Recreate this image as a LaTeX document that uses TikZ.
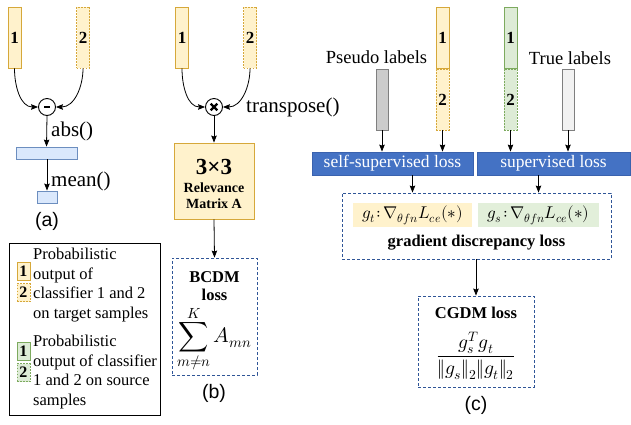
\documentclass[tikz,border=0pt]{standalone}
\usepackage{fontspec}
\usepackage{unicode-math}
\setmainfont{Liberation Serif}
\setmathfont{Latin Modern Math}
\newfontfamily\arialfont{Liberation Sans}
\usetikzlibrary{arrows.meta}
\definecolor{ylfill}{HTML}{FFF2CC}
\definecolor{yldraw}{HTML}{D6A83A}
\definecolor{grfill}{HTML}{DDEBD6}
\definecolor{grdraw}{HTML}{7DAA5E}
\definecolor{blfill}{HTML}{DAE8FC}
\definecolor{bldraw}{HTML}{6C8EBF}
\definecolor{dkblue}{HTML}{4472C4}
\definecolor{dkbluedraw}{HTML}{3A62AE}
\definecolor{dashblue}{HTML}{2F5597}
\definecolor{gsfill}{HTML}{E2EFDA}
\definecolor{grayfill}{HTML}{CCCCCC}
\definecolor{graydraw}{HTML}{7F7F7F}
\definecolor{whitefill}{HTML}{F2F2F2}
\begin{document}
\begin{tikzpicture}[x=1pt,y=-1pt,
  ybar/.style={draw=yldraw, fill=ylfill, line width=0.9pt, minimum width=13pt, minimum height=61pt, inner sep=0pt, font=\fontsize{17}{17}\selectfont\bfseries},
  gbar/.style={ybar, draw=grdraw, fill=grfill},
  dsh/.style={dash pattern=on 1.8pt off 1.2pt},
  plainbar/.style={draw=graydraw, line width=0.9pt, minimum width=12pt, minimum height=61pt, inner sep=0pt},
  arr/.style={-{Stealth[length=7pt,width=5.5pt,inset=1pt]}, line width=0.8pt},
  opcirc/.style={circle, draw, line width=0.9pt, minimum size=17pt, inner sep=0pt},
  bluerect/.style={draw=bldraw, fill=blfill, line width=0.9pt, inner sep=0pt},
  lbl/.style={font=\fontsize{21}{21}\selectfont, inner sep=0pt},
  captxt/.style={font=\arialfont\fontsize{19.5}{19.5}\selectfont, inner sep=0pt},
  dbox/.style={draw=dashblue, line width=0.9pt, dash pattern=on 3pt off 2pt, inner sep=0pt},
  lossbox/.style={draw=dkbluedraw, fill=dkblue, line width=0.8pt, minimum height=23pt, inner sep=0pt, text=white, font=\fontsize{17.5}{17.5}\selectfont},
  legtxt/.style={font=\fontsize{16.5}{19.5}\selectfont, align=left, inner sep=0pt, anchor=north west},
  legmark/.style={ybar, minimum width=13pt, minimum height=18pt, font=\fontsize{16}{16}\selectfont\bfseries}
]
\useasboundingbox (0,0) rectangle (631,424);

% ---------------- (a)
\node[ybar] (a1) at (14.5,37.5) {1};
\node[ybar,dsh] (a2) at (83,37.5) {2};
\node[opcirc] (am) at (47,107) {\rule{5.5pt}{2.6pt}};
\draw[arr] (a1.south) to[out=-90,in=180] (am.west);
\draw[arr] (a2.south) to[out=-90,in=0] (am.east);
\node[bluerect, minimum width=61pt, minimum height=12pt] (ar1) at (46.5,153) {};
\node[bluerect, minimum width=20pt, minimum height=12pt] (ar2) at (47,197) {};
\draw[arr] (am.south) -- (ar1.north);
\draw[arr] (ar1.south -| ar2.north) -- (ar2.north);
\node[lbl, anchor=west] (absl) at (51,131) {abs()};
\node[lbl, anchor=west] (meanl) at (51,181) {mean()};
\node[captxt] (capa) at (47,221) {(a)};

% ---------------- (b)
\node[ybar] (b1) at (182,37.5) {1};
\node[ybar,dsh] (b2) at (250,37.5) {2};
\node[opcirc] (bx) at (214,107) {};
\draw[line width=2.3pt] ([shift={(-3.3,-3.3)}]bx.center) -- ([shift={(3.3,3.3)}]bx.center)
                        ([shift={(-3.3,3.3)}]bx.center) -- ([shift={(3.3,-3.3)}]bx.center);
\draw[arr] (b1.south) to[out=-90,in=180] (bx.west);
\draw[arr] (b2.south) to[out=-90,in=0] (bx.east);
\node[lbl, anchor=west] (trl) at (246,107) {transpose()};
\node[draw=yldraw, fill=ylfill, line width=0.9pt, minimum width=80pt, minimum height=76pt, inner sep=0pt,
      align=center, font=\fontsize{14}{16}\selectfont\bfseries] (rel) at (214,181) {};
\node[font=\fontsize{23}{24}\selectfont\bfseries, inner sep=0pt] (rel3) at (214,166.5) {3×3};
\node[font=\fontsize{14}{16}\selectfont\bfseries, align=center, inner sep=0pt] (relt) at (214,196) {Relevance\\Matrix A};
\draw[arr] (bx.south) -- (rel.north);
\node[dbox, minimum width=85pt, minimum height=117pt] (bcdm) at (214.5,316.5) {};
\node[font=\fontsize{16.5}{18}\selectfont\bfseries, align=center, inner sep=0pt] (bcdmt) at (214.5,286) {BCDM\\loss};
\node[inner sep=0pt, font=\fontsize{21}{21}\selectfont] (bsum) at (214.5,339) {$\displaystyle\sum_{m\neq n}^{K} A_{mn}$};
\draw[arr] (rel.south) -- (bcdm.north);
\node[captxt] (capb) at (214,393) {(b)};

% ---------------- (c)
\node[font=\fontsize{18.5}{18.5}\selectfont, inner sep=0pt, anchor=base] (psl) at (376.5,63) {Pseudo labels};
\node[font=\fontsize{18.5}{18.5}\selectfont, inner sep=0pt, anchor=base] (trlb) at (570,64) {True labels};
\node[plainbar, fill=grayfill] (pb) at (382,99.5) {};
\node[ybar] (o1) at (442.5,37.5) {1};
\node[ybar,dsh] (o2) at (442.5,99.5) {2};
\node[gbar] (g1) at (510.5,37.5) {1};
\node[gbar,dsh] (g2) at (510.5,99.5) {2};
\node[plainbar, fill=whitefill] (tb) at (568,99.5) {};
\node[lossbox, minimum width=161pt] (ssl) at (392.5,163.5) {self-supervised loss};
\node[lossbox, minimum width=153pt] (sl) at (553.5,163.5) {supervised loss};
\draw[arr] (pb.south) -- (pb.south |- ssl.north);
\draw[arr] (o2.south) -- (o2.south |- ssl.north);
\draw[arr] (g2.south) -- (g2.south |- sl.north);
\draw[arr] (tb.south) -- (tb.south |- sl.north);
\node[dbox, minimum width=269pt, minimum height=66pt] (gd) at (476.5,226) {};
\node[fill=ylfill, minimum width=119pt, minimum height=24pt, inner sep=0pt, font=\fontsize{17}{17}\selectfont] (gt) at (412.5,215) {$g_t\!:\!\nabla_{\theta fn}L_{ce}(*)$};
\node[fill=gsfill, minimum width=121pt, minimum height=24pt, inner sep=0pt, font=\fontsize{17}{17}\selectfont] (gs) at (538.5,215) {$g_s\!:\!\nabla_{\theta fn}L_{ce}(*)$};
\node[font=\fontsize{16.5}{16.5}\selectfont\bfseries, inner sep=0pt] (gdl) at (476.5,243) {gradient discrepancy loss};
\draw[arr] (gt.north |- ssl.south) -- (gt.north |- gd.north);
\draw[arr] (gs.north |- sl.south) -- (gs.north |- gd.north);
\node[dbox, minimum width=116pt, minimum height=91pt] (cg) at (476,341.5) {};
\node[font=\fontsize{16.5}{16.5}\selectfont\bfseries, inner sep=0pt] (cgt) at (476,313) {CGDM loss};
\node[inner sep=0pt, font=\fontsize{19.5}{19.5}\selectfont] (cgf) at (476,356) {$\dfrac{g_s^T g_t}{\Vert g_s\Vert_2\Vert g_t\Vert_2}$};
\draw[arr] (gd.south -| cg.north) -- (cg.north);
\node[captxt] (capc) at (476,405) {(c)};

% ---------------- legend
\node[draw, line width=0.9pt, minimum width=151pt, minimum height=172pt, inner sep=0pt] (leg) at (84.5,329) {};
\node[legmark] (l1) at (23.5,271) {1};
\node[legmark,dsh] (l2) at (23.5,292.5) {2};
\node[legmark, draw=grdraw, fill=grfill] (l3) at (23.5,351) {1};
\node[legmark, draw=grdraw, fill=grfill, dsh] (l4) at (23.5,372.5) {2};
\node[legtxt] (lt1) at (33,248) {Probabilistic\\output of\\classifier 1 and 2\\on target samples};
\node[legtxt] (lt2) at (33,335) {Probabilistic\\output of classifier\\1 and 2 on source\\samples};
\end{tikzpicture}
\end{document}
